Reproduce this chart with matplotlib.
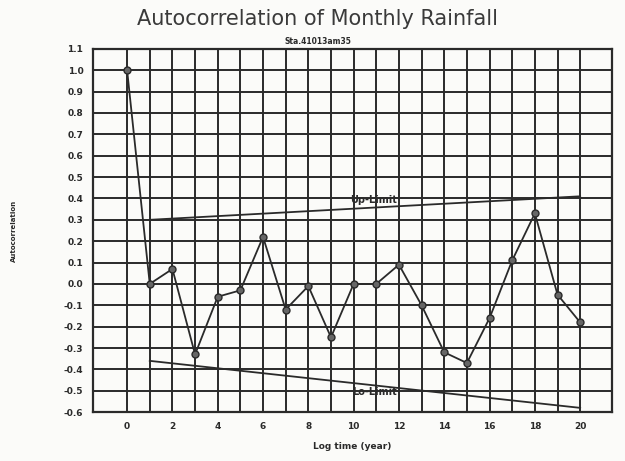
import matplotlib
matplotlib.use("Agg")
import matplotlib.pyplot as plt
import numpy as np

# lag (years) and sample autocorrelation
lags = np.arange(0, 21)
acf = [1.00, 0.00, 0.07, -0.33, -0.06, -0.03, 0.22, -0.12, -0.01, -0.25,
       0.00, 0.00, 0.09, -0.10, -0.32, -0.37, -0.16, 0.11, 0.33, -0.05, -0.18]

# confidence limits, drawn from lag 1 to lag 20
limit_lags = [1, 20]
up_limit = [0.30, 0.41]
lo_limit = [-0.36, -0.58]

xticks = list(range(0, 21, 2))
yticks = np.round(np.arange(-0.6, 1.11, 0.1), 1)

ink = "#2a2a2a"
fig = plt.figure(figsize=(6.25, 4.61), dpi=100)
fig.patch.set_facecolor("#fbfbf9")
ax = fig.add_axes([0.149, 0.106, 0.830, 0.788])
ax.set_facecolor("#fbfbf9")

ax.set_xlim(-1.5, 21.4)
ax.set_ylim(-0.6, 1.1)

# heavy graph-paper grid
for x in lags:
    ax.axvline(x, color=ink, lw=1.4, zorder=1)
for y in yticks:
    ax.axhline(y, color=ink, lw=1.4, zorder=1)

ax.plot(lags, acf, color=ink, lw=1.3, zorder=3)
ax.plot(lags, acf, "o", ms=5, mfc="#666666", mec=ink, mew=1.0, zorder=4)

ax.plot(limit_lags, up_limit, color=ink, lw=1.3, zorder=3)
ax.plot(limit_lags, lo_limit, color=ink, lw=1.3, zorder=3)
ax.text(10.9, 0.395, "Up-Limit", fontsize=7, fontweight="bold", color=ink,
        ha="center", va="center", zorder=5)
ax.text(10.9, -0.505, "Lo-Limit", fontsize=7, fontweight="bold", color=ink,
        ha="center", va="center", zorder=5)

ax.set_xticks(xticks)
ax.set_yticks(yticks)
ax.set_yticklabels([f"{abs(v):.1f}" if v == 0 else f"{v:.1f}" for v in yticks])
ax.tick_params(axis="y", length=0, labelsize=6.5, colors=ink, pad=7)
ax.tick_params(axis="x", length=0, labelsize=6.5, colors=ink, pad=7)
for lab in ax.get_xticklabels() + ax.get_yticklabels():
    lab.set_fontweight("bold")
for s in ax.spines.values():
    s.set_color(ink)
    s.set_linewidth(1.6)

ax.set_xlabel("Log time (year)", fontsize=6.5, fontweight="bold", color=ink,
              labelpad=8)
fig.text(0.022, 0.50, "Autocorrelation", rotation=90, fontsize=5,
         fontweight="bold", color=ink, ha="center", va="center")

fig.text(0.508, 0.958, "Autocorrelation of Monthly Rainfall", fontsize=15,
         color="#3a3a3a", ha="center", va="center")
fig.text(0.508, 0.910, "Sta.41013am35", fontsize=5.5, fontweight="bold",
         color=ink, ha="center", va="center")

fig.savefig("out.png", dpi=100, facecolor=fig.get_facecolor())
